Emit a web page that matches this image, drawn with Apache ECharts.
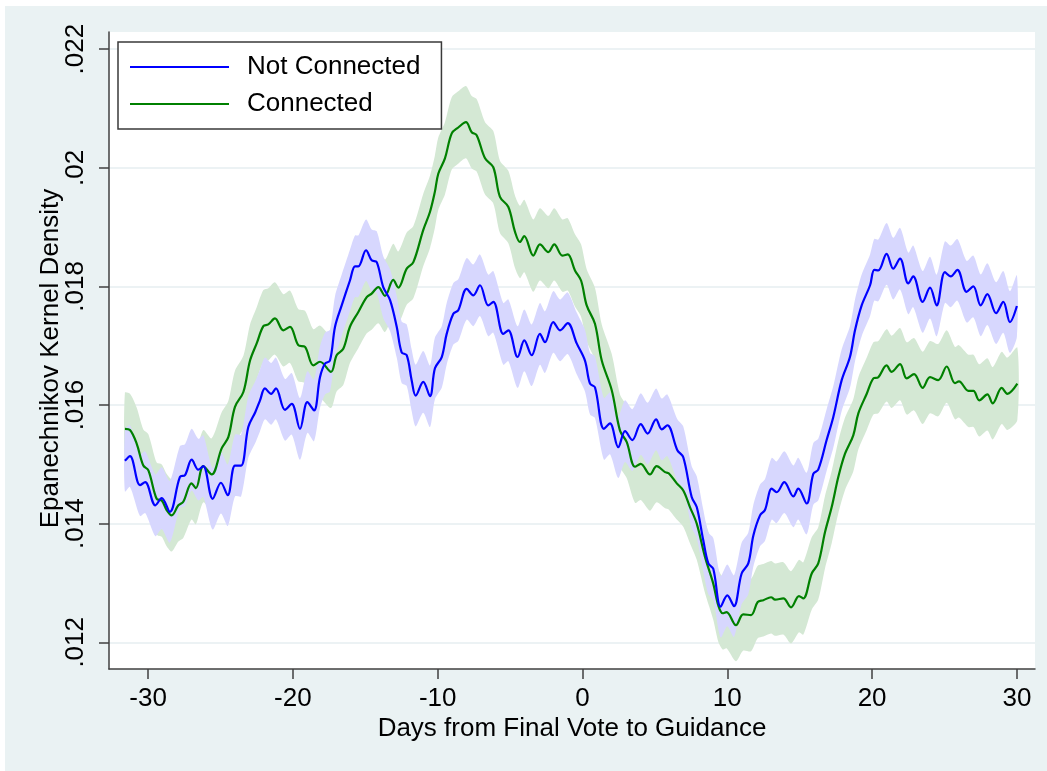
<!DOCTYPE html>
<html><head><meta charset="utf-8">
<script src="https://cdn.jsdelivr.net/npm/echarts@6/dist/echarts.min.js"></script>
<style>html,body{margin:0;padding:0;background:#fff}#c{width:1047px;height:771px}</style>
</head><body><div id="c"></div>
<script>
const seriesNames = ['Not Connected', 'Connected'];
const xTicks = [-30, -20, -10, 0, 10, 20, 30];
const yTicks = [0.012, 0.014, 0.016, 0.018, 0.020, 0.022];
const yTickLabels = ['.012', '.014', '.016', '.018', '.02', '.022'];

const notConnectedDays = [-31.6,-31.25,-30.56,-30.2,-29.5,-29.06,-28.5,-27.8,-27.45,-26.99,-26.53,-26.19,-25.54,-24.97,-24.5,-24.0,-23.58,-23.08,-22.6,-22.27,-21.93,-21.5,-21.17,-20.55,-20.08,-19.51,-19.0,-18.54,-18.13,-17.78,-17.44,-17.09,-16.63,-16.06,-15.71,-15.48,-14.95,-14.56,-14.21,-13.76,-13.29,-12.83,-12.49,-12.14,-11.8,-11.52,-11.0,-10.53,-10.19,-9.72,-9.38,-8.92,-8.58,-8.0,-7.54,-7.08,-6.51,-6.16,-5.47,-5.12,-4.48,-4.02,-3.51,-2.94,-2.59,-2.02,-1.55,-1.02,-0.40,0.17,0.52,0.86,1.48,1.9,2.47,2.94,3.44,4.02,4.5,5.08,5.47,5.86,6.55,6.96,7.54,7.89,8.34,8.69,9.03,9.54,10.0,10.46,10.99,11.45,11.8,12.26,12.6,13.07,13.41,13.94,14.56,14.9,15.48,15.94,16.28,16.86,17.32,17.9,18.47,18.82,19.28,19.86,20.15,20.43,21.0,21.46,21.93,22.5,22.84,23.49,24.0,24.46,25.03,25.43,25.89,26.53,26.99,27.5,27.96,28.56,29.06,29.52,30.0];
const notConnectedDensity = [0.01506,0.01514,0.01465,0.01470,0.01431,0.01443,0.01420,0.01479,0.01482,0.01508,0.01491,0.01497,0.01442,0.01469,0.01448,0.01498,0.01498,0.01563,0.01588,0.01608,0.01628,0.01619,0.01628,0.01592,0.01602,0.01560,0.01605,0.01591,0.01647,0.01670,0.01675,0.01732,0.01768,0.01810,0.01834,0.01834,0.01861,0.01844,0.01841,0.01799,0.01777,0.01732,0.01689,0.01684,0.01642,0.01616,0.01639,0.01615,0.01662,0.01681,0.01720,0.01754,0.01760,0.01796,0.01785,0.01802,0.01768,0.01774,0.01720,0.01726,0.01681,0.01709,0.01684,0.01720,0.01706,0.01740,0.01726,0.01738,0.01704,0.01675,0.01636,0.01630,0.01560,0.01569,0.01529,0.01556,0.01541,0.01568,0.01552,0.01576,0.01559,0.01566,0.01524,0.01512,0.01445,0.01428,0.01372,0.01333,0.01324,0.01260,0.01279,0.01261,0.01316,0.01333,0.01380,0.01414,0.01423,0.01459,0.01453,0.01470,0.01446,0.01459,0.01434,0.01484,0.01491,0.01541,0.01580,0.01642,0.01681,0.01726,0.01768,0.01802,0.01828,0.01827,0.01855,0.01830,0.01847,0.01805,0.01817,0.01774,0.01798,0.01768,0.01824,0.01817,0.01828,0.01791,0.01800,0.01768,0.01787,0.01755,0.01774,0.01740,0.01767];

const connectedDays = [-31.6,-31.25,-30.79,-30.33,-29.98,-29.41,-29.06,-28.72,-28.37,-27.91,-27.57,-27.0,-26.7,-26.19,-25.61,-24.92,-24.46,-24.0,-23.42,-22.96,-22.5,-22.04,-21.7,-21.24,-20.66,-20.2,-19.63,-19.16,-18.59,-18.13,-17.37,-16.98,-16.52,-16.06,-15.48,-14.9,-14.56,-14.1,-13.64,-13.07,-12.72,-12.14,-11.68,-11.0,-10.53,-10.2,-9.96,-9.5,-9.03,-8.58,-8.05,-7.65,-7.31,-6.73,-6.16,-5.7,-5.12,-4.66,-4.32,-4.02,-3.4,-2.94,-2.36,-1.95,-1.39,-1.02,-0.52,-0.1,0.29,0.86,1.33,2.02,2.59,3.05,3.63,4.02,4.66,5.12,5.7,5.95,6.51,6.96,7.42,7.89,8.46,9.03,9.38,9.68,9.95,10.6,11.1,11.64,12.1,12.49,13.02,13.3,13.87,14.4,14.95,15.25,15.83,16.28,16.75,17.21,17.67,18.13,18.7,19.05,19.63,20.09,20.43,21.0,21.35,21.93,22.39,22.9,23.49,24.0,24.57,25.15,25.72,26.0,26.65,27.0,27.4,27.96,28.33,28.95,29.34,30.03];
const connectedDensity = [0.01560,0.01558,0.01535,0.01498,0.01490,0.01442,0.01439,0.01423,0.01414,0.01431,0.01437,0.01468,0.01460,0.01497,0.01483,0.01527,0.01546,0.01597,0.01622,0.01675,0.01704,0.01733,0.01736,0.01746,0.01726,0.01732,0.01701,0.01698,0.01667,0.01673,0.01656,0.01684,0.01695,0.01732,0.01757,0.01782,0.01788,0.01799,0.01784,0.01811,0.01798,0.01830,0.01841,0.01895,0.01926,0.01959,0.01990,0.02016,0.02058,0.02068,0.02077,0.02060,0.02055,0.02016,0.02001,0.01951,0.01934,0.01892,0.01875,0.01885,0.01852,0.01871,0.01858,0.01871,0.01852,0.01854,0.01827,0.01810,0.01768,0.01737,0.01675,0.01625,0.01557,0.01538,0.01496,0.01501,0.01483,0.01497,0.01487,0.01485,0.01468,0.01456,0.01428,0.01400,0.01344,0.01299,0.01262,0.01249,0.01251,0.01229,0.01247,0.01246,0.01268,0.01271,0.01276,0.01272,0.01274,0.01259,0.01278,0.01274,0.01316,0.01333,0.01386,0.01428,0.01479,0.01518,0.01549,0.01586,0.01619,0.01645,0.01647,0.01667,0.01656,0.01669,0.01645,0.01652,0.01629,0.01647,0.01642,0.01665,0.01637,0.01640,0.01624,0.01624,0.01608,0.01618,0.01603,0.01629,0.01619,0.01636];

// half-width of the shaded confidence band
const notConnectedBandHalf = 0.00052;
const connectedBandHalf = 0.00061;

const FONT = 'Liberation Sans, Arial, Helvetica, sans-serif';
const AX = '#404040';
const SMOOTH = 0.35;

function pairs(xs, ys) { return xs.map((x, i) => [x, ys[i]]); }

function bandSeries(name, xs, ys, half, color) {
  const data = xs.map((x, i) => [x, ys[i] - half, ys[i] + half]);
  return {
    name: name, type: 'custom', silent: true, clip: true, data: data,
    encode: { x: 0, y: [1, 2] },
    renderItem: (params, api) => {
      if (params.dataIndex !== 0) return null;
      const up = data.map(d => api.coord([d[0], d[2]]));
      const lo = data.map(d => api.coord([d[0], d[1]])).reverse();
      return { type: 'polygon', shape: { points: up.concat(lo), smooth: 0.25 }, style: { fill: color, stroke: null } };
    }
  };
}

const chart = echarts.init(document.getElementById('c'), null, { renderer: 'canvas' });
chart.setOption({
  animation: false,
  backgroundColor: '#ffffff',
  textStyle: { fontFamily: FONT },
  graphic: [{ type: 'rect', z: -100, silent: true, shape: { x: 5, y: 6, width: 1042, height: 765 }, style: { fill: '#eaf2f3' } }],
  grid: { left: 109, right: 12, top: 32, bottom: 102, show: true, backgroundColor: '#ffffff', borderWidth: 0, outerBoundsMode: 'none' },
  legend: {
    data: seriesNames, orient: 'vertical', left: 118, top: 42, selectedMode: false,
    icon: 'rect', itemWidth: 99, itemHeight: 2, itemGap: 11,
    backgroundColor: '#ffffff', borderColor: '#3a3a3a', borderWidth: 1.5, borderRadius: 0,
    padding: [12, 21, 12, 12],
    textStyle: { fontSize: 26, color: '#000', fontFamily: FONT, padding: [0, 0, 0, 13], lineHeight: 26 }
  },
  xAxis: {
    type: 'value', min: -32.7, max: 31.25,
    name: 'Days from Final Vote to Guidance', nameLocation: 'middle', nameGap: 47, nameMoveOverlap: false,
    nameTextStyle: { fontSize: 26, color: '#000', fontFamily: FONT },
    axisLine: { show: true, onZero: false, lineStyle: { color: AX, width: 1.5 } },
    axisTick: { show: true, length: 10, lineStyle: { color: AX, width: 1.5 }, customValues: xTicks },
    axisLabel: { fontSize: 26, color: '#000', margin: 17, customValues: xTicks, fontFamily: FONT },
    splitLine: { show: false }
  },
  yAxis: {
    type: 'value', min: 0.01155, max: 0.02229,
    name: 'Epanechnikov Kernel Density', nameLocation: 'middle', nameGap: 45, nameMoveOverlap: false,
    nameTextStyle: { fontSize: 26, color: '#000', fontFamily: FONT, padding: [0, 16, 0, 0] },
    axisLine: { show: true, onZero: false, lineStyle: { color: AX, width: 1.5 } },
    axisTick: { show: true, length: 10, lineStyle: { color: AX, width: 1.5 }, customValues: yTicks },
    axisLabel: { fontSize: 26, color: '#000', rotate: 90, margin: 20, customValues: yTicks, fontFamily: FONT,
      formatter: v => { const i = yTicks.findIndex(t => Math.abs(t - v) < 1e-9); return i >= 0 ? yTickLabels[i] : ''; } },
    splitLine: { show: true, lineStyle: { color: '#e6eef0', width: 1.5 } }
  },
  series: [
    bandSeries('g band', connectedDays, connectedDensity, connectedBandHalf, '#d4e8d4'),
    bandSeries('b band', notConnectedDays, notConnectedDensity, notConnectedBandHalf, '#d7d7fe'),
    { name: seriesNames[1], type: 'line', data: pairs(connectedDays, connectedDensity), symbol: 'none', smooth: SMOOTH,
      lineStyle: { color: '#008000', width: 2.2 }, itemStyle: { color: '#008000' } },
    { name: seriesNames[0], type: 'line', data: pairs(notConnectedDays, notConnectedDensity), symbol: 'none', smooth: SMOOTH,
      lineStyle: { color: '#0000ff', width: 2.2 }, itemStyle: { color: '#0000ff' } }
  ]
});
</script></body></html>
